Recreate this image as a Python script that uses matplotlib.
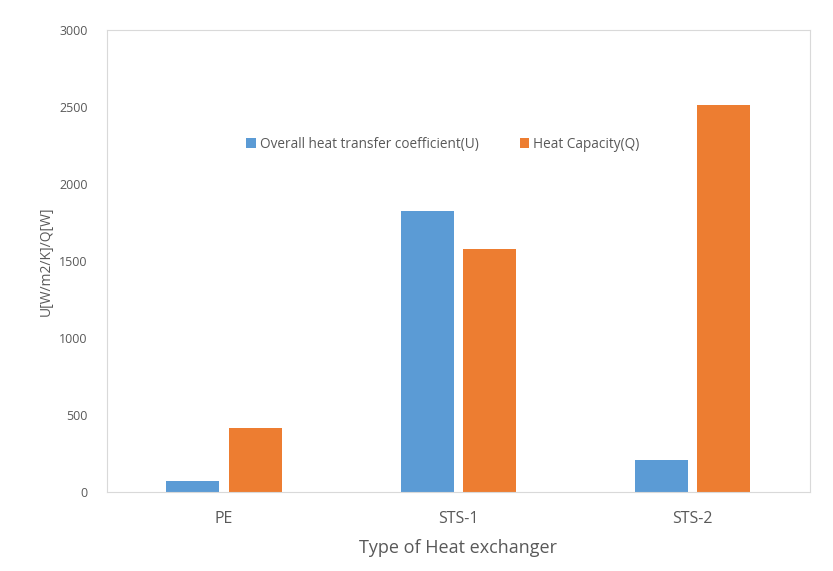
import numpy as np
import matplotlib.pyplot as plt

plt.rcParams['font.family'] = ['Open Sans', 'DejaVu Sans']

categories = ['PE', 'STS-1', 'STS-2']
u_values = [72, 1822, 205]
q_values = [415, 1578, 2513]
series_names = ['Overall heat transfer coefficient(U)', 'Heat Capacity(Q)']

gray = '#595959'
fig = plt.figure(figsize=(8.33, 5.71), dpi=100)
ax = fig.add_axes([0.1285, 0.1384, 0.8435, 0.8091])

x = np.arange(len(categories))
w = 0.227
gap = 0.04
ax.bar(x - (w + gap) / 2, u_values, w, color='#5B9BD5', label=series_names[0])
ax.bar(x + (w + gap) / 2, q_values, w, color='#ED7D31', label=series_names[1])

ax.set_xlim(-0.5, 2.5)
ax.set_ylim(0, 3000)
ax.set_yticks(range(0, 3001, 500))
ax.set_xticks(x)
ax.set_xticklabels(categories, fontsize=11.5, color=gray)
ax.tick_params(axis='x', length=0, pad=14)
ax.tick_params(axis='y', length=0, pad=14, labelsize=9, labelcolor=gray)
for s in ax.spines.values():
    s.set_color('#D9D9D9')
    s.set_linewidth(0.8)

ax.set_xlabel('Type of Heat exchanger', fontsize=13, color=gray, labelpad=8)
ax.set_ylabel('U[W/m2/K]/Q[W]', fontsize=10, color=gray, labelpad=4)

leg = ax.legend(loc='center', bbox_to_anchor=(0.478, 0.753), ncol=2, frameon=False,
                fontsize=9.8, handlelength=0.7, handleheight=0.7, handletextpad=0.3,
                columnspacing=3.0, labelcolor=gray)

fig.savefig('out.png', dpi=100)
